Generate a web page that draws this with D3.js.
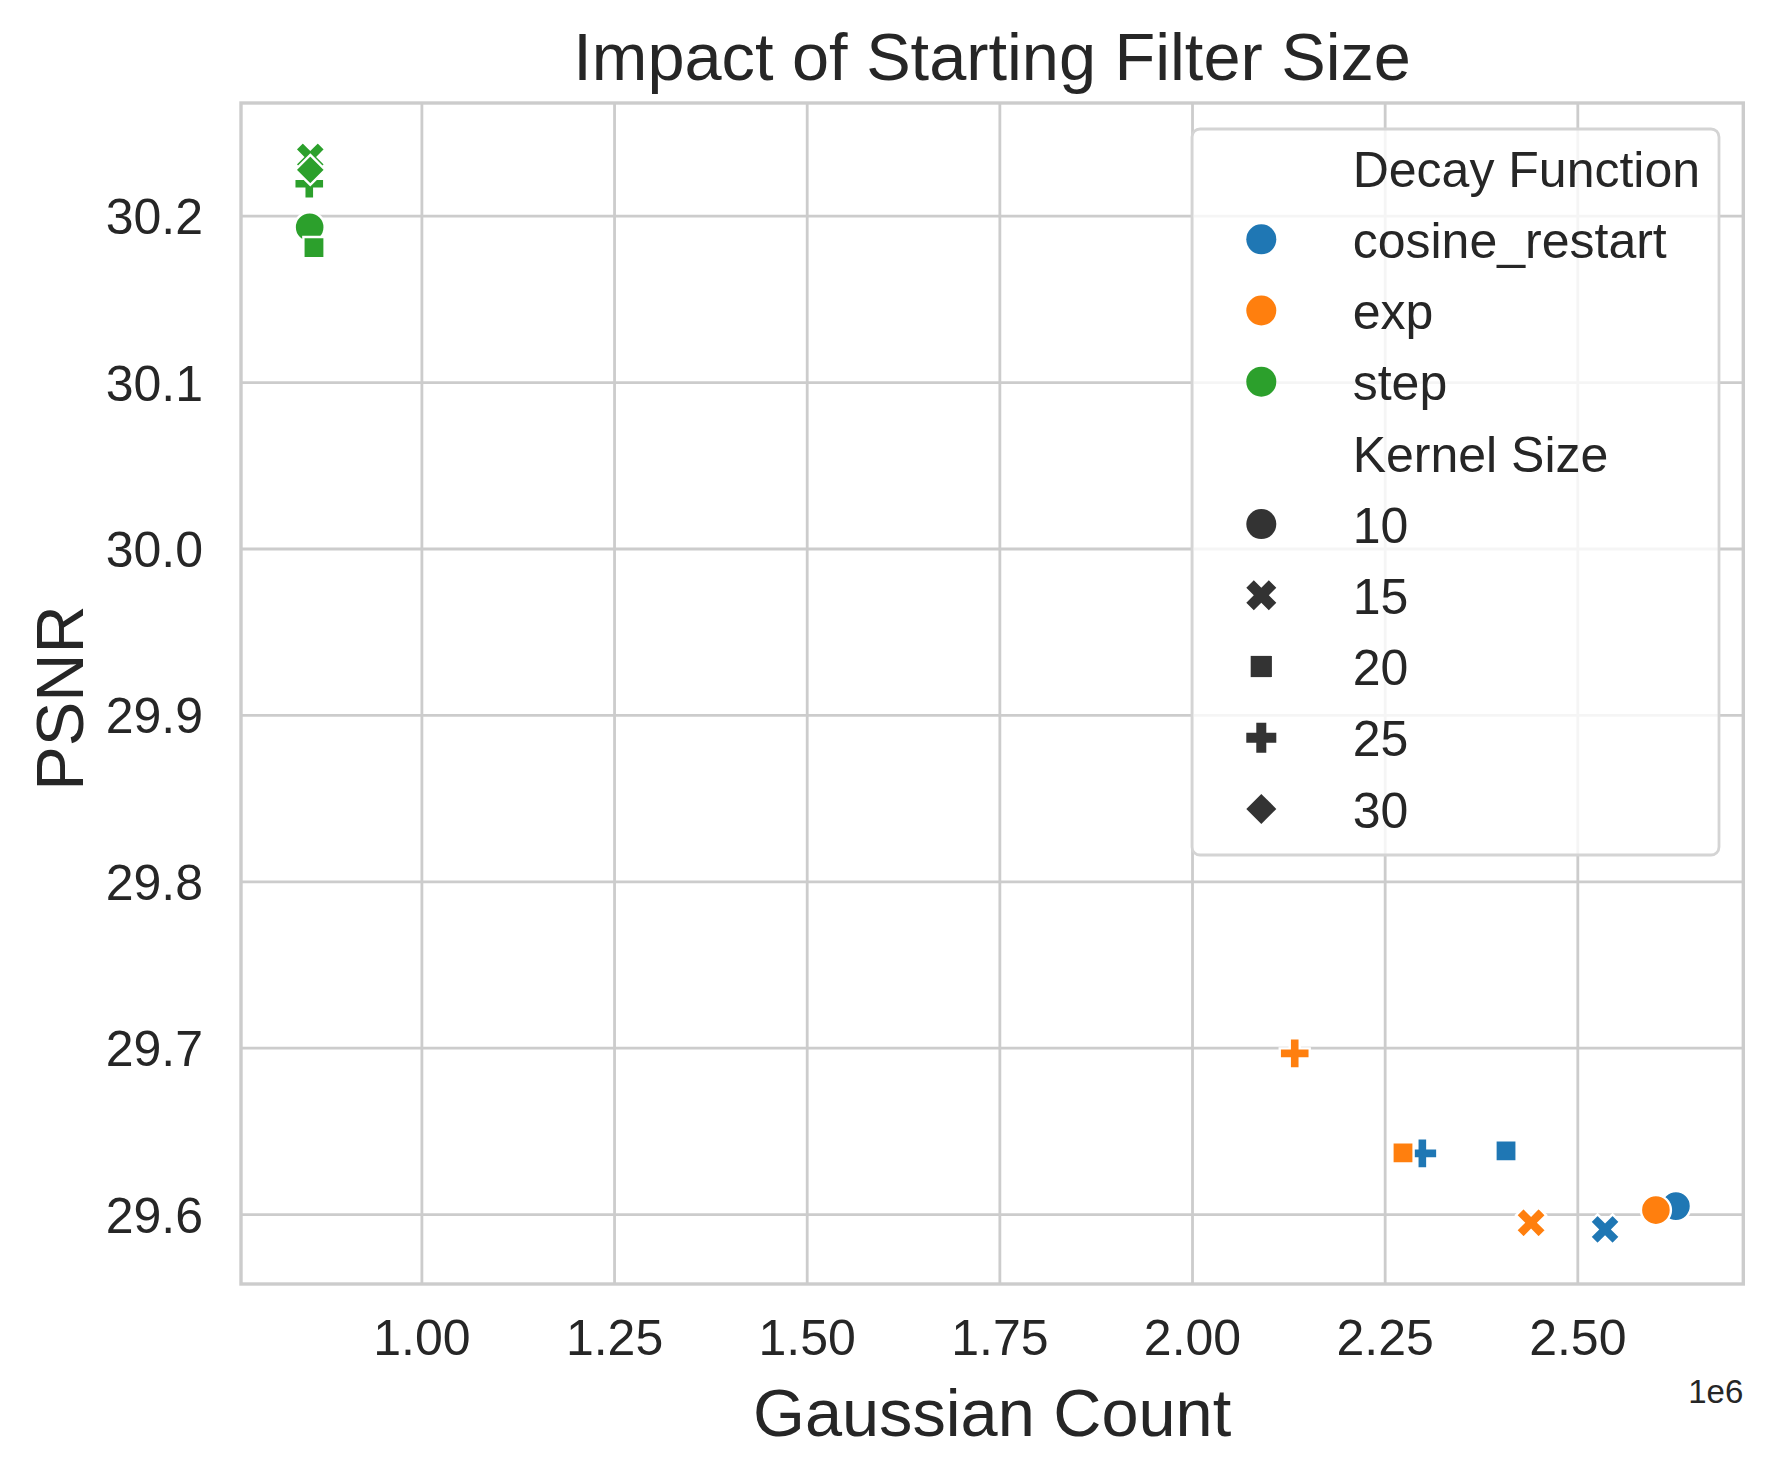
<!DOCTYPE html>
<html>
<head>
<meta charset="utf-8">
<script src="https://cdn.jsdelivr.net/npm/d3@7"></script>
<style>
  body { margin: 0; background: #fff; }
  text { font-family: "Liberation Sans", Arial, sans-serif; fill: #262626; }
</style>
</head>
<body>
<div id="chart"></div>
<script>
// data (x in raw counts, y = PSNR)
const decayNames = ["cosine_restart", "exp", "step"];
const decayColors = ["#1f77b4", "#ff7f0e", "#2ca02c"];
const kernelSizes = [10, 15, 20, 25, 30];

// one entry per point, drawn in this order
const pointDecay  = ["cosine_restart", "cosine_restart", "cosine_restart", "cosine_restart",
                     "exp", "exp", "exp", "exp",
                     "step", "step", "step", "step", "step"];
const pointKernel = [10, 15, 20, 25,
                     10, 15, 20, 25,
                     10, 15, 20, 25, 30];
const gaussianCount = [2628000, 2536000, 2407500, 2298900,
                       2602000, 2440000, 2273800, 2133300,
                       855000, 855800, 860600, 854500, 855800];
const psnr = [29.6048, 29.5908, 29.6380, 29.6365,
              29.6024, 29.5948, 29.6368, 29.6966,
              30.1930, 30.2353, 30.1808, 30.2192, 30.2275];

const xTicks = [1.00e6, 1.25e6, 1.50e6, 1.75e6, 2.00e6, 2.25e6, 2.50e6];
const yTicks = [29.6, 29.7, 29.8, 29.9, 30.0, 30.1, 30.2];

const W = 1773, H = 1473;
const plot = {left: 241, top: 103, right: 1743.3, bottom: 1284};
const MS = 30; // marker size px

const svg = d3.select("#chart").append("svg")
  .attr("width", W).attr("height", H);

const x = d3.scaleLinear().domain([765900, 2715400]).range([plot.left, plot.right]);
const y = d3.scaleLinear().domain([29.558, 30.2677]).range([plot.bottom, plot.top]);
const color = d3.scaleOrdinal().domain(decayNames).range(decayColors);

// matplotlib-like marker paths, centred at 0,0
function poly(pts, k) {
  return "M" + pts.map(p => (p[0] * k) + "," + (p[1] * k)).join("L") + "Z";
}
function markerPath(kernel, s) {
  let r = s / 2;
  if (kernel == 10) {
    return "M" + (-r) + ",0A" + r + "," + r + " 0 1,0 " + r + ",0A" + r + "," + r + " 0 1,0 " + (-r) + ",0Z";
  }
  if (kernel == 15) {
    return poly([[-1,-2],[0,-1],[1,-2],[2,-1],[1,0],[2,1],[1,2],[0,1],[-1,2],[-2,1],[-1,0],[-2,-1]], s / 4);
  }
  if (kernel == 20) {
    let h = r / Math.SQRT2;
    return poly([[-h,-h],[h,-h],[h,h],[-h,h]], 1);
  }
  if (kernel == 25) {
    return poly([[-1,-3],[1,-3],[1,-1],[3,-1],[3,1],[1,1],[1,3],[-1,3],[-1,1],[-3,1],[-3,-1],[-1,-1]], s / 6);
  }
  return poly([[0,-r],[r,0],[0,r],[-r,0]], 1);
}

// grid + ticks
const gx = svg.append("g")
  .attr("transform", "translate(0," + plot.bottom + ")")
  .call(d3.axisBottom(x).tickValues(xTicks)
    .tickFormat(d => (d / 1e6).toFixed(2))
    .tickSize(-(plot.bottom - plot.top)));
gx.select(".domain").remove();
gx.selectAll("line").attr("stroke", "#cccccc").attr("stroke-width", 2.8);
gx.selectAll("text").attr("y", 71).attr("dy", null)
  .style("font-size", "50px").attr("fill", "#262626");

const gy = svg.append("g")
  .attr("transform", "translate(" + plot.left + ",0)")
  .call(d3.axisLeft(y).tickValues(yTicks)
    .tickFormat(d3.format(".1f"))
    .tickSize(-(plot.right - plot.left)));
gy.select(".domain").remove();
gy.selectAll("line").attr("stroke", "#cccccc").attr("stroke-width", 2.8);
gy.selectAll("text").attr("x", -38).attr("dy", "0.36em")
  .style("font-size", "50px").attr("fill", "#262626");

// spines
svg.append("rect")
  .attr("x", plot.left).attr("y", plot.top)
  .attr("width", plot.right - plot.left).attr("height", plot.bottom - plot.top)
  .attr("fill", "none").attr("stroke", "#cccccc").attr("stroke-width", 3.4);

// points
const points = gaussianCount.map((g, i) => ({g: g, p: psnr[i], decay: pointDecay[i], kernel: pointKernel[i]}));
svg.append("g").selectAll("path")
  .data(points)
  .enter()
  .append("path")
    .attr("transform", d => "translate(" + x(d.g) + "," + y(d.p) + ")")
    .attr("d", d => markerPath(d.kernel, MS))
    .attr("fill", d => color(d.decay))
    .attr("stroke", "#fff")
    .attr("stroke-width", 2.4);

// titles
svg.append("text").attr("x", (plot.left + plot.right) / 2).attr("y", 80)
  .attr("text-anchor", "middle").style("font-size", "66.7px")
  .text("Impact of Starting Filter Size");
svg.append("text").attr("x", (plot.left + plot.right) / 2).attr("y", 1436)
  .attr("text-anchor", "middle").style("font-size", "66.7px")
  .text("Gaussian Count");
svg.append("text").attr("transform", "translate(83," + 698 + ") rotate(-90)")
  .attr("text-anchor", "middle").style("font-size", "66.7px")
  .text("PSNR");
svg.append("text").attr("x", plot.right).attr("y", 1403)
  .attr("text-anchor", "end").style("font-size", "33px")
  .text("1e6");

// legend
const leg = svg.append("g");
leg.append("rect")
  .attr("x", 1192).attr("y", 129).attr("width", 527).attr("height", 726)
  .attr("rx", 8).attr("fill", "#fff").attr("fill-opacity", 0.8)
  .attr("stroke", "#d4d4d4").attr("stroke-width", 2.8);

let rows = [{label: "Decay Function"}];
decayNames.forEach(d => rows.push({label: d, fill: color(d), kernel: 10}));
rows.push({label: "Kernel Size"});
kernelSizes.forEach(k => rows.push({label: String(k), fill: "#333333", kernel: k}));

rows.forEach((r, i) => {
  let cy = 168.1 + i * 71.2;
  if (r.fill) {
    leg.append("path")
      .attr("transform", "translate(1261.3," + cy + ")")
      .attr("d", markerPath(r.kernel, MS))
      .attr("fill", r.fill);
  }
  leg.append("text").attr("x", 1352.7).attr("y", cy + 18.6)
    .style("font-size", "50px").text(r.label);
});
</script>
</body>
</html>
